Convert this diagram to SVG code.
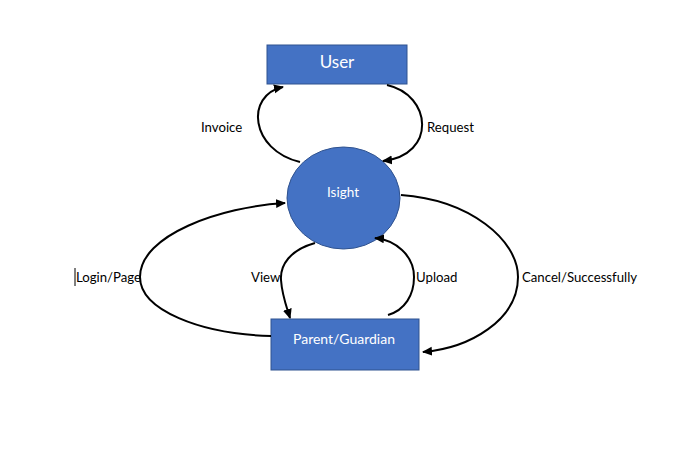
<svg xmlns="http://www.w3.org/2000/svg" width="679" height="465" viewBox="0 0 679 465">
<defs>
<style>
.node{fill:#4472C4;stroke:#2F528F;stroke-width:1}
.ntext{fill:#fff;font-family:Lato,"Open Sans",sans-serif;text-anchor:middle}
.edge{fill:none;stroke:#000;stroke-width:2;marker-end:url(#ah)}
.lbl{fill:#000;font-family:Lato,"Open Sans",sans-serif;font-size:13.2px}
</style>
<marker id="ah" markerUnits="userSpaceOnUse" markerWidth="10" markerHeight="10" refX="9" refY="5" orient="auto">
<path d="M0,0.5 L10,5 L0,9.5 z" fill="#000"/>
</marker>
</defs>
<rect width="679" height="465" fill="#fff"/>
<g id="user">
<rect class="node" x="267" y="45" width="140" height="39"/>
<text class="ntext" x="337" y="68" font-size="17">User</text>
</g>
<g id="isight">
<ellipse class="node" cx="343.5" cy="198" rx="56.5" ry="51"/>
<text class="ntext" x="343" y="197" font-size="13.5">Isight</text>
</g>
<g id="parent">
<rect class="node" x="271" y="319" width="148" height="51"/>
<text class="ntext" x="344" y="344" font-size="14">Parent/Guardian</text>
</g>
<g id="connectors">
<path class="edge" d="M300,162 C250,150 245,95 283,87"/>
<path class="edge" d="M387,85 C432,95 437,155 383,161"/>
<path class="edge" d="M271,336 C200,334 140,310 140,277 C140,235 220,207 285,203"/>
<path class="edge" d="M315,243 C290,250 280,265 281,280 C282,295 286,305 290,318"/>
<path class="edge" d="M388,315 C405,310 414,295 414,277 C414,255 395,240 375,238"/>
<path class="edge" d="M401,195 C470,200 518,240 518,277 C518,320 470,348 423,352"/>
</g>
<g id="labels">
<text class="lbl" x="201" y="132">Invoice</text>
<text class="lbl" x="427" y="132">Request</text>
<line x1="75" y1="268" x2="75" y2="286" stroke="#000" stroke-width="1"/>
<text class="lbl" x="76" y="282">Login/Page</text>
<text class="lbl" x="251" y="282">View</text>
<text class="lbl" x="416" y="282">Upload</text>
<text class="lbl" x="522" y="282">Cancel/Successfully</text>
</g>
</svg>
